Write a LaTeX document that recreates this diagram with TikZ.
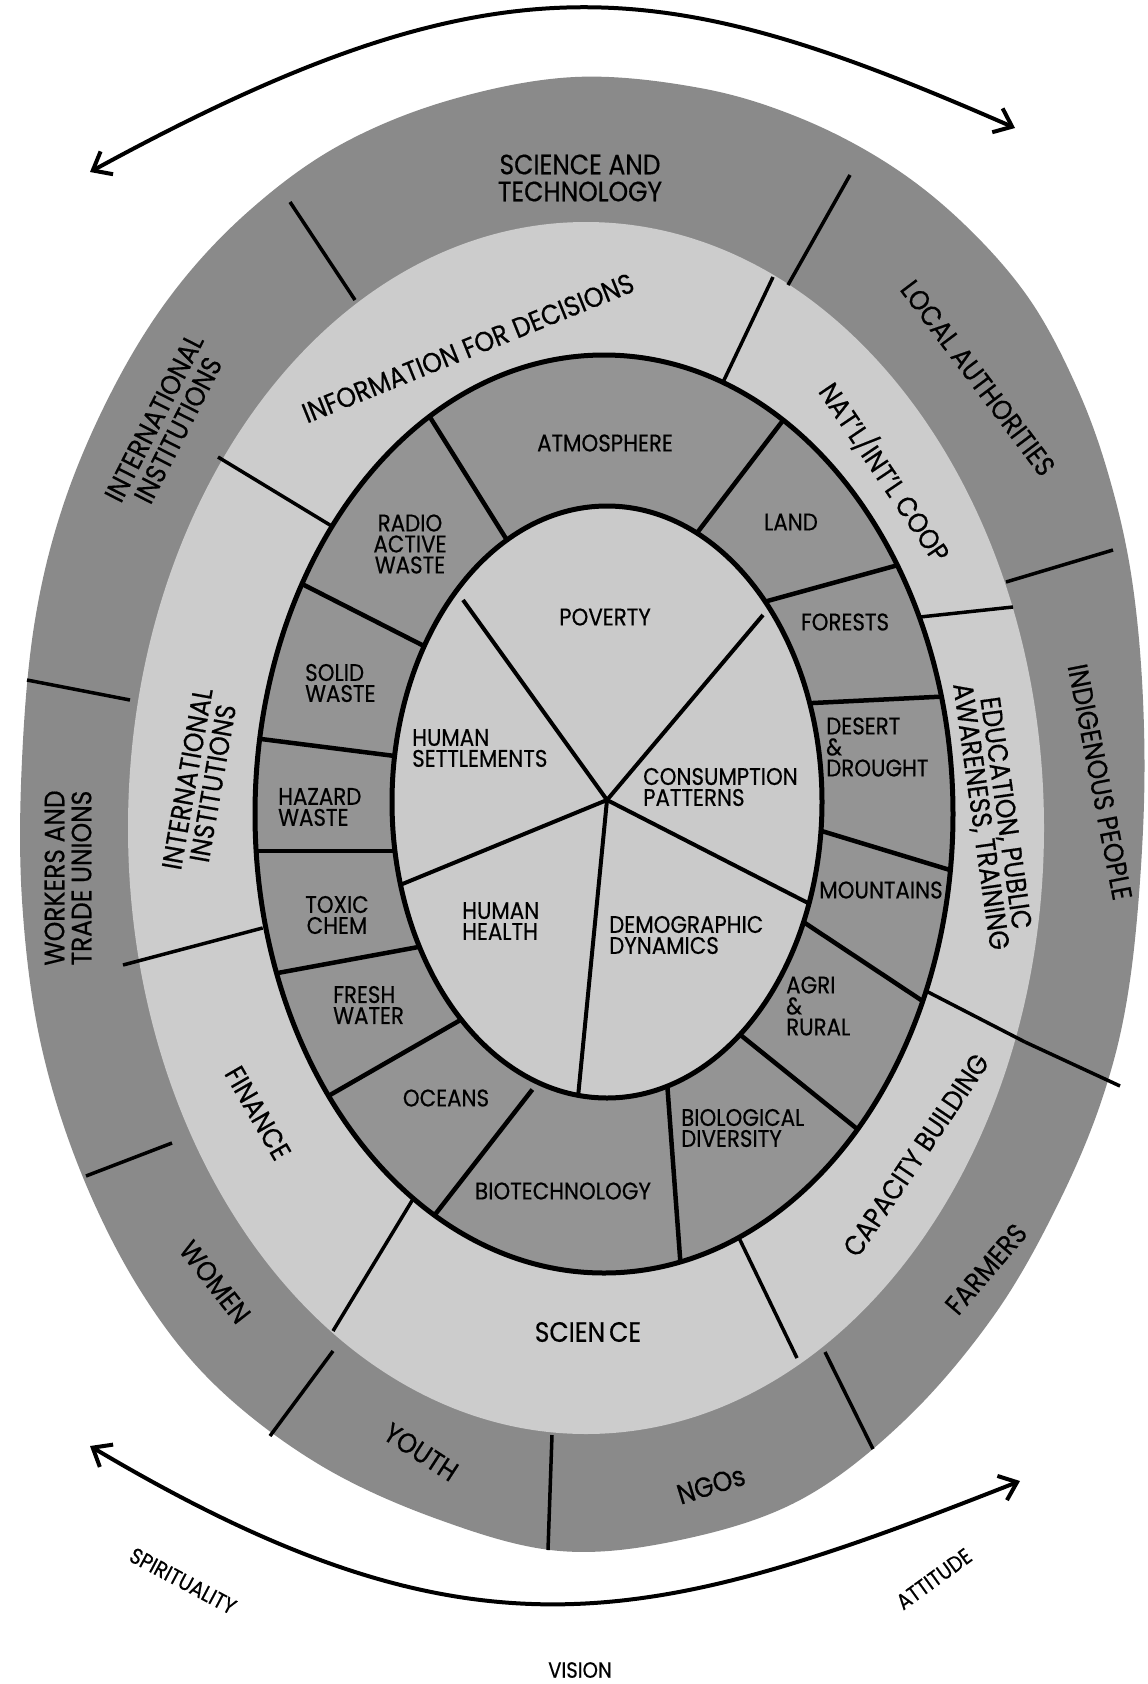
\documentclass[tikz,border=0pt]{standalone}
\usepackage{fontspec}
\setmainfont{Poppins}[FakeStretch=0.89,FakeBold=0.5]
\usetikzlibrary{arrows.meta}
\definecolor{outerg}{RGB}{138,138,138}
\definecolor{lightg}{RGB}{204,204,204}
\definecolor{ringg}{RGB}{148,148,148}
\definecolor{innerg}{RGB}{202,202,202}
\tikzset{
  lbl/.style={inner sep=0pt, align=center, text=black},
  outerlbl/.style={lbl, font=\fontsize{28}{27}\selectfont},
  bandlbl/.style={lbl, font=\fontsize{28}{26}\selectfont},
  ringlbl/.style={lbl, font=\fontsize{24}{21}\selectfont},
  arrowlbl/.style={lbl, font=\fontsize{22}{22}\selectfont},
  ringline/.style={line width=4.5pt, black},
  bandline/.style={line width=3.5pt, black},
  spoke/.style={line width=4pt, black},
  twohead/.style={line width=4pt, black,
    {Straight Barb[length=16pt,width=26pt,line width=4pt]}-{Straight Barb[length=16pt,width=26pt,line width=4pt]}}
}
\begin{document}
\begin{tikzpicture}[x=1pt,y=-1pt]
\useasboundingbox (0,0) rectangle (1148,1684);
\fill[white] (0,0) rectangle (1148,1684);

% outer dark band
\fill[outerg] plot[smooth cycle, tension=0.6] coordinates {
 (575,77) (700,88) (800,118) (890,165) (965,225) (1030,300) (1078,390) (1110,480)
 (1132,580) (1143,700) (1143,830) (1130,980) (1105,1090) (1060,1200) (995,1314)
 (905,1420) (800,1500) (680,1540) (560,1551) (440,1520) (320,1465) (215,1385)
 (140,1290) (80,1170) (40,1040) (22,900) (22,760) (35,620) (65,500) (115,385)
 (175,290) (250,210) (340,145) (450,100)};

% light band
\fill[lightg] (586,828) ellipse [x radius=458pt, y radius=606pt];

% light band dividers (ring end first)
\draw[bandline, shorten <=-8pt] (725,378) -- (773,277);
\draw[bandline, shorten <=-8pt] (325,522) -- (218,457);
\draw[bandline, shorten <=-8pt] (255,930) -- (123,965);
\draw[bandline, shorten <=-8pt] (410,1204) -- (333,1331);
\draw[bandline, shorten <=-8pt] (740,1240) -- (797,1358);
\draw[bandline, shorten <=-8pt] (928,992) -- (1025,1042);
\draw[bandline, shorten <=-8pt] (920,617) -- (1013,607);

% outer band dividers
\draw[bandline] (290,202) -- (355,300);
\draw[bandline] (850,175) -- (788,285);
\draw[bandline] (1006,582) -- (1113,550);
\draw[bandline] (1025,1042) -- (1120,1086);
\draw[bandline] (825,1352) -- (873,1449);
\draw[bandline] (552,1435) -- (548,1550);
\draw[bandline] (333,1351) -- (270,1436);
\draw[bandline] (172,1143) -- (86,1176);
\draw[bandline] (27,680) -- (130,700);

% ring
\fill[ringg] (604,814) ellipse [x radius=349pt, y radius=459pt];
\begin{scope}
\clip (604,814) ellipse [x radius=349pt, y radius=459pt];
\draw[ringline, shorten <=-12pt, shorten >=-12pt] (700,529) -- (781,423);
\draw[ringline, shorten <=-12pt, shorten >=-12pt] (505,537) -- (433,422);
\draw[ringline, shorten <=-12pt, shorten >=-12pt] (422,645) -- (308,587);
\draw[ringline, shorten <=-12pt, shorten >=-12pt] (387,755) -- (269,740);
\draw[ringline, shorten <=-12pt, shorten >=-12pt] (390,851) -- (260,851);
\draw[ringline, shorten <=-12pt, shorten >=-12pt] (413,948) -- (283,972);
\draw[ringline, shorten <=-12pt, shorten >=-12pt] (457,1022) -- (330,1095);
\draw[ringline, shorten <=-12pt, shorten >=-12pt] (525,1099) -- (437,1212);
\draw[ringline, shorten <=-12pt, shorten >=-12pt] (668,1095) -- (680,1257);
\draw[ringline, shorten <=-12pt, shorten >=-12pt] (743,1037) -- (856,1128);
\draw[ringline, shorten <=-12pt, shorten >=-12pt] (808,925) -- (921,1000);
\draw[ringline, shorten <=-12pt, shorten >=-12pt] (825,832) -- (950,870);
\draw[ringline, shorten <=-12pt, shorten >=-12pt] (813,703) -- (934,697);
\draw[ringline, shorten <=-12pt, shorten >=-12pt] (771,600) -- (891,567);
\end{scope}
\draw[line width=5pt, black] (604,814) ellipse [x radius=349pt, y radius=459pt];

% inner ellipse
\filldraw[fill=innerg, draw=black, line width=5pt] (607,802) ellipse [x radius=215pt, y radius=296pt];
\coordinate (ctr) at (607,800);
\draw[spoke] (ctr) -- (463,600);
\draw[spoke] (ctr) -- (763,615);
\draw[spoke] (ctr) -- (808,903);
\draw[spoke] (ctr) -- (578,1097);
\draw[spoke] (ctr) -- (400,885);

% arrows
\coordinate (atl) at (90,172);
\coordinate (atr) at (1015,128);
\coordinate (abl) at (90,1446);
\coordinate (abr) at (1020,1481);
\draw[twohead] (atl) .. controls (502,-53) and (663,-26) .. (atr);
\draw[twohead] (abl) .. controls (474,1674) and (649,1627) .. (abr);

% outer band labels
\node[outerlbl] (sciTech) at (580,178) {SCIENCE AND\\TECHNOLOGY};
\node[outerlbl, rotate=63] (intInstOut) at (166,424) {INTERNATIONAL\\INSTITUTIONS};
\node[outerlbl, rotate=-53] (localAuth) at (978,378) {LOCAL AUTHORITIES};
\node[outerlbl, rotate=-79] (indig) at (1100,782) {INDIGENOUS PEOPLE};
\node[outerlbl, rotate=49.5] (farmers) at (986,1269) {FARMERS};
\node[outerlbl, rotate=17.5] (ngos) at (711,1485) {NGOs};
\node[outerlbl, rotate=-33] (youth) at (421,1452) {YOUTH};
\node[outerlbl, rotate=-52] (women) at (215,1282) {WOMEN};
\node[outerlbl, rotate=90] (workers) at (68,878) {WORKERS AND\\TRADE UNIONS};

% light band labels
\node[bandlbl, rotate=22] (info) at (468,348) {INFORMATION FOR DECISIONS};
\node[bandlbl, rotate=-56] (natl) at (885,472) {NAT’L/INT’L COOP};
\node[bandlbl, rotate=-82, font=\fontsize{28}{25}\selectfont] (edu) at (992,815) {EDUCATION, PUBLIC\\AWARENESS, TRAINING};
\node[bandlbl, rotate=56] (capac) at (916,1155) {CAPACITY BUILDING};
\node[bandlbl] (science) at (588,1332) {SCIEN\kern4pt CE};
\node[bandlbl, rotate=-60] (finance) at (258,1113) {FINANCE};
\node[bandlbl, rotate=80] (intInstIn) at (200,781) {INTERNATIONAL\\INSTITUTIONS};

% ring labels
\node[ringlbl] (atmos) at (605,443) {ATMOSPHERE};
\node[ringlbl] (land) at (791,522) {LAND};
\node[ringlbl] (radio) at (410,544) {RADIO\\ACTIVE\\WASTE};
\node[ringlbl, anchor=west, align=left] (solid) at (305,683) {SOLID\\WASTE};
\node[ringlbl, anchor=west, align=left] (hazard) at (278,807) {HAZARD\\WASTE};
\node[ringlbl] (toxic) at (337,915) {TOXIC\\CHEM};
\node[ringlbl, anchor=west, align=left] (fresh) at (333,1005) {FRESH\\WATER};
\node[ringlbl] (oceans) at (446,1098) {OCEANS};
\node[ringlbl] (biotech) at (563,1191) {BIOTECHNOLOGY};
\node[ringlbl, anchor=west, align=left] (biodiv) at (681,1128) {BIOLOGICAL\\DIVERSITY};
\node[ringlbl, anchor=west, align=left] (agri) at (786,1006) {AGRI\\\&\\RURAL};
\node[ringlbl] (mount) at (881,890) {MOUNTAINS};
\node[ringlbl, anchor=west, align=left] (desert) at (826,747) {DESERT\\\&\\DROUGHT};
\node[ringlbl] (forests) at (845,622) {FORESTS};

% centre labels
\node[ringlbl] (poverty) at (605,617) {POVERTY};
\node[ringlbl, anchor=west, align=left] (settle) at (412,748) {HUMAN\\SETTLEMENTS};
\node[ringlbl, anchor=west, align=left] (consum) at (643,787) {CONSUMPTION\\PATTERNS};
\node[ringlbl, anchor=west, align=left] (health) at (462,921) {HUMAN\\HEALTH};
\node[ringlbl, anchor=west, align=left] (demog) at (609,935) {DEMOGRAPHIC\\DYNAMICS};

% arrow labels
\node[arrowlbl, rotate=-28] (spirit) at (183,1581) {SPIRITUALITY};
\node[arrowlbl, rotate=36] (attitude) at (934,1579) {ATTITUDE};
\node[arrowlbl] (vision) at (580,1670) {VISION};
\end{tikzpicture}
\end{document}
